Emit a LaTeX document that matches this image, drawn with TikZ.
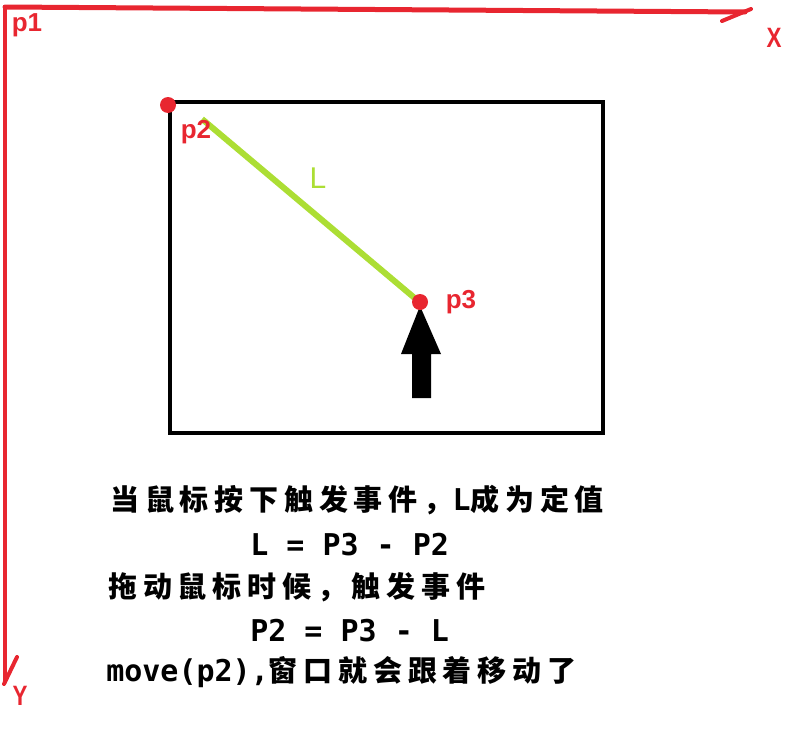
\documentclass[tikz,border=0pt]{standalone}
\usepackage{fontspec}
\setmainfont{Liberation Sans}
\newfontfamily\cjk{Noto Sans CJK SC}[LetterSpace=20]
\newfontfamily\mono{DejaVu Sans Mono}
\newcommand\lat[1]{{\mono\fontsize{30}{30}\selectfont #1}}
\usetikzlibrary{calc}
\definecolor{axisred}{RGB}{232,38,48}
\definecolor{lgreen}{RGB}{172,222,52}

\begin{document}
\begin{tikzpicture}[x=1pt,y=-1pt,semithick]
  \tikzstyle{axis}=[draw=axisred,line width=5pt,line cap=round]
  \tikzstyle{dot}=[circle,fill=axisred,inner sep=0pt,minimum size=16pt]
  \tikzstyle{plabel}=[text=axisred,inner sep=0pt,font=\bfseries\fontsize{26}{26}\selectfont]
  \tikzstyle{axlabel}=[plabel,xscale=0.8,font=\bfseries\fontsize{28}{28}\selectfont]
  \tikzstyle{note}=[anchor=base west,inner sep=0pt,font=\bfseries\fontsize{29}{29}\selectfont\cjk]

  \useasboundingbox (0,0) rectangle (792,728);

  % axes
  \coordinate (o)    at (5,7);
  \coordinate (xend) at (745,12);
  \coordinate (xh1)  at (751,9);
  \coordinate (xh2)  at (722,21);
  \coordinate (yend) at (5,682);
  \coordinate (yh1)  at (17,657);
  \coordinate (yh2)  at (4,684);
  \draw[axis] (o) -- (xend);
  \draw[axis,line width=4pt] (xh1) -- (xh2);
  \draw[axis,line width=4pt] (o) -- (yend);
  \draw[axis,line width=4pt] (yh1) -- (yh2);
  \node[plabel] (p1)   at (27,25)  {p1};
  \node[axlabel] (xlab) at (774,38) {X};
  \node[axlabel] (ylab) at (20,696) {Y};

  % window
  \draw[line width=4.5pt] (170,102) rectangle (603,433);

  % L between p2 and p3
  \coordinate (lstart) at (202,119);
  \coordinate (lend)   at (417,300);
  \draw[lgreen,line width=6pt] (lstart) -- (lend);
  \node[text=lgreen,font=\fontsize{30}{30}\selectfont] (L) at (318,178) {L};

  % mouse arrow
  \fill (420,306) -- (441,354) -- (431,354) -- (431,398) -- (412,398)
        -- (412,354) -- (401,354) -- cycle;

  \node[dot] (d2) at (168,105) {};
  \node[dot] (d3) at (420,302) {};
  \node[plabel] (p2) at (196,132) {p2};
  \node[plabel] (p3) at (461,302) {p3};

  % notes
  \node[note] (n1) at (110,510) {当鼠标按下触发事件，\lat{L}成为定值};
  \node[note] (n2) at (250,555) {\lat{L = P3 - P2}};
  \node[note] (n3) at (108,597) {拖动鼠标时候，触发事件};
  \node[note] (n4) at (250,641) {\lat{P2 = P3 - L}};
  \node[note] (n5) at (106,681) {\lat{move(p2),}窗口就会跟着移动了};
\end{tikzpicture}
\end{document}
